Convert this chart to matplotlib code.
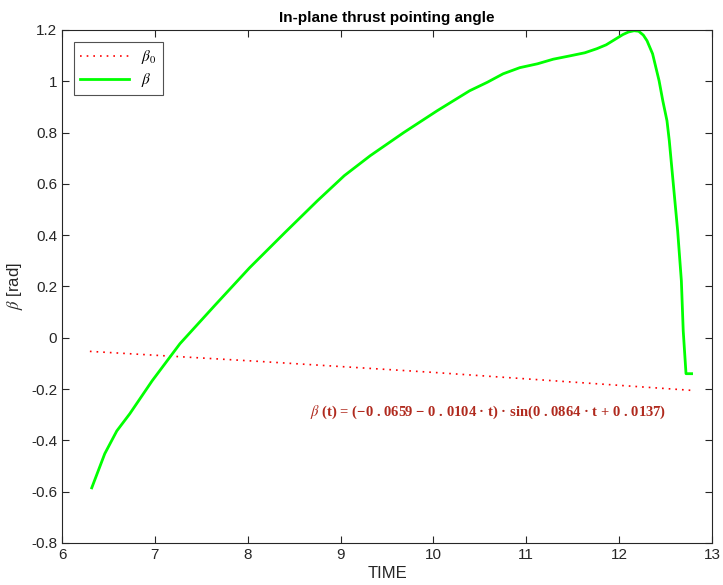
import numpy as np
import matplotlib.pyplot as plt

plt.rcParams['font.family'] = ['Liberation Sans', 'DejaVu Sans']
plt.rcParams['mathtext.fontset'] = 'stix'

# steering angle history (time, rad)
t_beta = [6.32, 6.46, 6.59, 6.73, 6.97, 7.27, 7.65, 8.02, 8.40, 8.75, 9.04, 9.32,
          9.68, 10.04, 10.39, 10.58, 10.75, 10.93, 11.12, 11.29, 11.47, 11.63, 11.76,
          11.86, 11.95, 12.04, 12.10, 12.16, 12.21, 12.26, 12.30, 12.36, 12.43, 12.47,
          12.515, 12.54, 12.58, 12.63, 12.67, 12.69, 12.72, 12.78]
beta = [-0.585, -0.452, -0.363, -0.296, -0.168, -0.023, 0.128, 0.273, 0.41, 0.534,
        0.632, 0.710, 0.800, 0.885, 0.963, 0.996, 1.029, 1.053, 1.068, 1.086, 1.099,
        1.111, 1.127, 1.142, 1.162, 1.182, 1.192, 1.197, 1.195, 1.180, 1.158, 1.107,
        1.002, 0.924, 0.846, 0.768, 0.612, 0.417, 0.222, 0.027, -0.140, -0.140]

# initial guess
t_beta0 = [6.30, 8.12, 10.0, 12.78]
beta0 = [-0.053, -0.092, -0.135, -0.205]

fit_label = (r'$\beta$ (t) = (−0 . 0659 − 0 . 0104 · t) · sin(0 . 0864 · t + 0 . 0137)')

fig = plt.figure(figsize=(7.23, 5.85), dpi=100)
ax = fig.add_axes([0.0858, 0.0718, 0.899, 0.877])

ax.plot(t_beta0, beta0, color='red', linestyle=(0, (1, 3)), linewidth=1.2,
        label=r'$\beta_0$')
ax.plot(t_beta, beta, color='#00ff00', linewidth=2, label=r'$\beta$')

ax.text(10.59, -0.292, fit_label, color='#b02a1e', fontsize=10.5, fontweight='bold',
        family=['Liberation Serif', 'DejaVu Serif'], ha='center', va='center')

ax.set_xlim(6, 13)
ax.set_ylim(-0.8, 1.2)
ax.set_xticks(np.arange(6, 14, 1))
ax.set_yticks(np.round(np.arange(-0.8, 1.21, 0.2), 1))
ax.set_yticklabels(['-0.8', '-0.6', '-0.4', '-0.2', '0', '0.2', '0.4', '0.6',
                    '0.8', '1', '1.2'])
ax.tick_params(direction='in', top=True, right=True, labelsize=11, length=5,
               color='#262626', labelcolor='#262626')
for s in ax.spines.values():
    s.set_color('#262626')
    s.set_linewidth(0.8)

ax.set_xlabel('TIME', fontsize=12, color='#262626', labelpad=3)
ax.set_ylabel(r'$\beta$ [rad]', fontsize=12, color='#262626')
ax.set_title('In-plane thrust pointing angle', fontsize=11, fontweight='bold', pad=6)

leg = ax.legend(loc='upper left', fontsize=11, fancybox=False, edgecolor='#262626',
                borderaxespad=0.8, handlelength=3.2, labelspacing=0.3)
leg.get_frame().set_linewidth(0.8)

fig.savefig('out.png', dpi=100)
